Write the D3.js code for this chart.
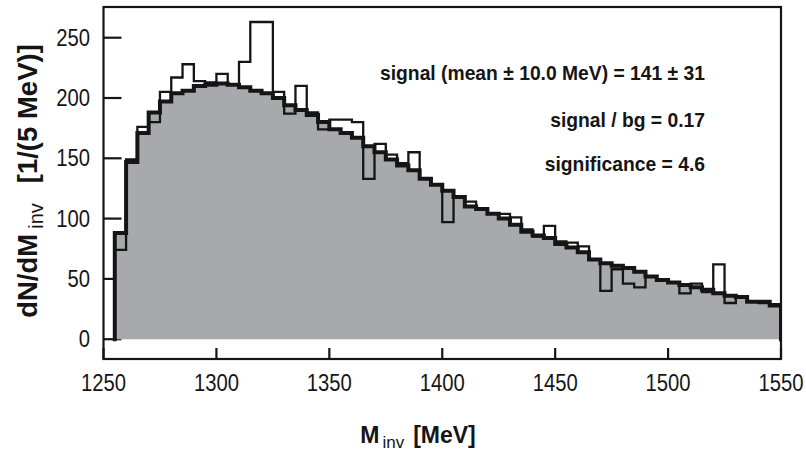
<!DOCTYPE html>
<html>
<head>
<meta charset="utf-8">
<script src="https://cdn.jsdelivr.net/npm/d3@7"></script>
<style>
  html, body { margin: 0; padding: 0; background: #fff; }
  svg { display: block; }
</style>
</head>
<body>
<svg id="chart" width="806" height="451"></svg>
<script>
// Lower edge of each 5 MeV invariant-mass bin [MeV]
const binLow = [
  1255, 1260, 1265, 1270, 1275, 1280, 1285, 1290, 1295, 1300,
  1305, 1310, 1315, 1320, 1325, 1330, 1335, 1340, 1345, 1350,
  1355, 1360, 1365, 1370, 1375, 1380, 1385, 1390, 1395, 1400,
  1405, 1410, 1415, 1420, 1425, 1430, 1435, 1440, 1445, 1450,
  1455, 1460, 1465, 1470, 1475, 1480, 1485, 1490, 1495, 1500,
  1505, 1510, 1515, 1520, 1525, 1530, 1535, 1540, 1545
];
const binWidth = 5;

// Measured counts per bin (open histogram)
const measured = [
   74, 149, 176, 180, 205, 217, 228, 214, 213, 220,
  211, 230, 263, 263, 205, 187, 210, 188, 174, 182,
  182, 180, 133, 162, 153, 146, 155, 133, 128,  97,
  118, 114, 108, 104, 104, 101,  91,  85,  94,  81,
   80,  77,  66,  40,  58,  46,  43,  52,  49,  47,
   38,  46,  39,  62,  30,  35,  31,  30,  29
];

// Combinatorial background per bin (grey filled histogram)
const background = [
   88, 147, 171, 188, 197, 204, 206, 210, 211, 212,
  211, 209, 206, 204, 200, 194, 190, 186, 180, 174,
  171, 167, 160, 155, 149, 144, 140, 133, 128, 123,
  118, 110, 108, 104, 100,  95,  89,  86,  84,  79,
   76,  72,  66,  63,  61,  59,  56,  52,  49,  47,
   45,  43,  41,  38,  36,  35,  31,  31,  28
];

const xTickValues = [1250, 1300, 1350, 1400, 1450, 1500, 1550];
const yTickValues = [0, 50, 100, 150, 200, 250];

const infoLines = [
  "signal (mean \u00B1 10.0 MeV) = 141 \u00B1 31",
  "signal / bg = 0.17",
  "significance = 4.6"
];

// ---- layout ----
const frame = { left: 103.5, right: 781, top: 7, bottom: 359 };
const svg = d3.select("#chart");

const x = d3.scaleLinear().domain([1250, 1550]).range([frame.left, frame.right]);
const y = d3.scaleLinear().domain([0, 250]).range([339.2, 37.7]);

const font = "'Liberation Sans', Arial, Helvetica, sans-serif";
const ink = "#151515";
const grey = "#a8a9ac";

// step points, closed to zero at both ends
function stepPoints(values) {
  const pts = [[binLow[0], 0]];
  values.forEach((v, i) => pts.push([binLow[i], v]));
  const last = binLow[binLow.length - 1] + binWidth;
  pts.push([last, values[values.length - 1]]);
  pts.push([last, 0]);
  return pts;
}

svg.append("defs").append("clipPath").attr("id", "plotClip")
  .append("rect")
  .attr("x", frame.left).attr("y", frame.top)
  .attr("width", frame.right - frame.left)
  .attr("height", frame.bottom - frame.top);

// left-side ticks (drawn under the histogram)
svg.append("g").selectAll("line").data(yTickValues).join("line")
  .attr("x1", frame.left).attr("x2", frame.left + 18)
  .attr("y1", d => y(d)).attr("y2", d => y(d))
  .attr("stroke", ink).attr("stroke-width", 2.2);

const plot = svg.append("g").attr("clip-path", "url(#plotClip)");

// background: grey fill
const area = d3.area()
  .x(d => x(d[0])).y0(y(0)).y1(d => y(d[1]))
  .curve(d3.curveStepAfter);
const bgPts = background.map((v, i) => [binLow[i], v]);
bgPts.push([binLow[binLow.length - 1] + binWidth, background[background.length - 1]]);
plot.append("path").datum(bgPts)
  .attr("d", area).attr("fill", grey).attr("stroke", "none");

const line = d3.line().x(d => x(d[0])).y(d => y(d[1])).curve(d3.curveStepAfter);

// background outline (thick)
plot.append("path").datum(stepPoints(background))
  .attr("d", line).attr("fill", "none")
  .attr("stroke", ink).attr("stroke-width", 4)
  .attr("stroke-linejoin", "miter").attr("stroke-linecap", "square");

// measured outline (thin)
plot.append("path").datum(stepPoints(measured))
  .attr("d", line).attr("fill", "none")
  .attr("stroke", ink).attr("stroke-width", 2.3)
  .attr("stroke-linejoin", "miter").attr("stroke-linecap", "square");

// bottom ticks pointing inward
svg.append("g").selectAll("line").data(xTickValues).join("line")
  .attr("x1", d => x(d)).attr("x2", d => x(d))
  .attr("y1", frame.bottom).attr("y2", frame.bottom - 11)
  .attr("stroke", ink).attr("stroke-width", 2.2);

// frame
svg.append("rect")
  .attr("x", frame.left).attr("y", frame.top)
  .attr("width", frame.right - frame.left)
  .attr("height", frame.bottom - frame.top)
  .attr("fill", "none").attr("stroke", ink).attr("stroke-width", 2.2);

// y tick labels
svg.append("g").selectAll("text").data(yTickValues).join("text")
  .attr("transform", d => `translate(90,${y(d) + 8}) scale(0.88,1)`)
  .attr("text-anchor", "end")
  .attr("font-family", font).attr("font-size", 23)
  .attr("fill", ink)
  .text(d => d);

// x tick labels
svg.append("g").selectAll("text").data(xTickValues).join("text")
  .attr("transform", d => `translate(${x(d)},391) scale(0.88,1)`)
  .attr("text-anchor", "middle")
  .attr("font-family", font).attr("font-size", 23)
  .attr("fill", ink)
  .text(d => d);

// x axis title
const xt = svg.append("text")
  .attr("x", 418).attr("y", 443)
  .attr("text-anchor", "middle")
  .attr("font-family", font).attr("fill", ink);
xt.append("tspan").attr("font-size", 23).attr("font-weight", "bold").text("M");
xt.append("tspan").attr("font-size", 17).attr("dx", 3).attr("dy", 5).text("inv");
xt.append("tspan").attr("font-size", 23).attr("font-weight", "bold").attr("dx", 9).attr("dy", -5).text("[MeV]");

// y axis title (rotated)
const yt = svg.append("text")
  .attr("transform", "translate(36.5,181) rotate(-90)")
  .attr("text-anchor", "middle")
  .attr("font-family", font).attr("fill", ink);
yt.append("tspan").attr("font-size", 27.5).attr("font-weight", "bold").text("dN/dM");
yt.append("tspan").attr("font-size", 20).attr("dx", 5).attr("dy", 6).text("inv");
yt.append("tspan").attr("font-size", 27.5).attr("font-weight", "bold").attr("dx", 20).attr("dy", -6).text("[1/(5 MeV)]");

// fit summary
const infoBaselines = [80, 126.5, 170.5];
svg.append("g").selectAll("text").data(infoLines).join("text")
  .attr("x", 705).attr("y", (d, i) => infoBaselines[i])
  .attr("text-anchor", "end")
  .attr("font-family", font).attr("font-size", 19.3).attr("font-weight", "bold")
  .attr("fill", ink)
  .text(d => d);
</script>
</body>
</html>
